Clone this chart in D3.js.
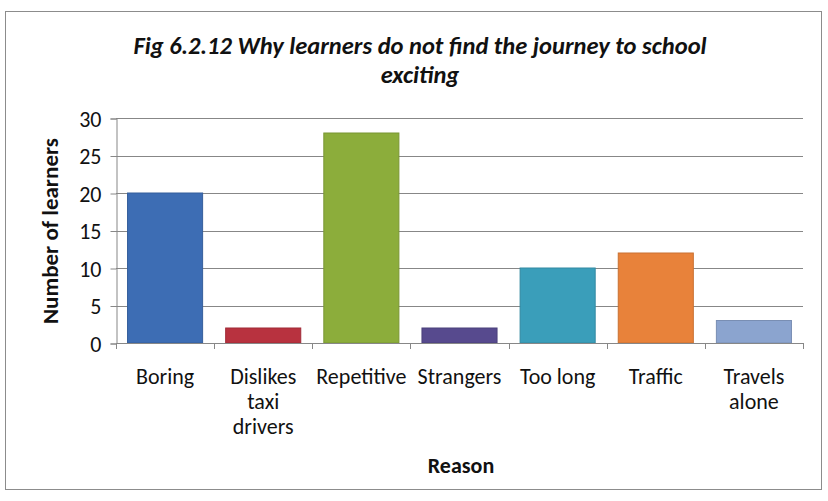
<!DOCTYPE html>
<html><head><meta charset="utf-8">
<script src="https://cdn.jsdelivr.net/npm/d3@7"></script>
<style>
html,body{margin:0;padding:0;background:#fff;}
text{font-family:Carlito,"Liberation Sans Narrow","Open Sans",sans-serif;}
</style></head>
<body><svg id="c" width="828" height="501"></svg>
<script>
const categories = ["Boring","Dislikes taxi drivers","Repetitive","Strangers","Too long","Traffic","Travels alone"];
const categoryLines = [["Boring"],["Dislikes","taxi","drivers"],["Repetitive"],["Strangers"],["Too long"],["Traffic"],["Travels","alone"]];
const values = [20, 2, 28, 2, 10, 12, 3];
const colors = ["#3d6db4","#b8323f","#8cad3b","#574a8e","#3a9eba","#e8823a","#8ba4cf"];
const yTicks = [0,5,10,15,20,25,30];
const titleLines = ["Fig 6.2.12 Why learners do not find the journey to school","exciting"];
const yTitle = "Number of learners";
const xTitle = "Reason";

const svg = d3.select("#c");
svg.append("rect").attr("x",5.5).attr("y",11.5).attr("width",816).attr("height",478)
  .attr("fill","#fff").attr("stroke","#8c8c8c").attr("stroke-width",1);

const pL=116, pR=803, pT=118, pB=343;
const x = d3.scaleBand().domain(categories).range([pL,pR]).paddingInner(0.235).paddingOuter(0.1175);
const y = d3.scaleLinear().domain([0,30]).range([pB,pT]);

// gridlines
svg.append("g").selectAll("line").data(yTicks).join("line")
  .attr("x1",pL).attr("x2",pR).attr("y1",d=>Math.round(y(d))+0.5).attr("y2",d=>Math.round(y(d))+0.5)
  .attr("stroke","#878787").attr("stroke-width",1);

// y axis
const ya = svg.append("g").attr("transform",`translate(${pL+0.5},0.5)`)
  .call(d3.axisLeft(y).tickValues(yTicks).tickSize(6).tickPadding(9));
ya.select(".domain").attr("stroke","#878787");
ya.selectAll(".tick line").attr("stroke","#878787");
ya.selectAll(".tick text").attr("font-size",22).attr("fill","#111").attr("dy","0.35em");

// bars
svg.append("g").selectAll("rect").data(values).join("rect")
  .attr("x",(d,i)=>x(categories[i])).attr("width",x.bandwidth())
  .attr("y",d=>y(d)).attr("height",d=>pB-y(d))
  .attr("fill",(d,i)=>colors[i])
  .attr("stroke",(d,i)=>d3.color(colors[i]).darker(0.4)).attr("stroke-width",1);

// x axis line and ticks at band boundaries
const bounds = d3.range(categories.length+1).map(i=>pL+i*(pR-pL)/categories.length);
svg.append("line").attr("x1",pL).attr("x2",pR).attr("y1",pB+0.5).attr("y2",pB+0.5).attr("stroke","#878787");
svg.append("g").selectAll("line").data(bounds).join("line")
  .attr("x1",d=>Math.round(d)+0.5).attr("x2",d=>Math.round(d)+0.5).attr("y1",pB).attr("y2",pB+6)
  .attr("stroke","#878787");

// category labels
const lab = svg.append("g");
categories.forEach((c,i)=>{
  const cx = x(c)+x.bandwidth()/2;
  const t = lab.append("text").attr("x",cx).attr("y",384).attr("text-anchor","middle")
    .attr("font-size",22).attr("fill","#111");
  categoryLines[i].forEach((ln,j)=>t.append("tspan").attr("x",cx).attr("dy",j?25:0).text(ln));
});

// titles
titleLines.forEach((t,i)=>svg.append("text").attr("x",420).attr("y",54+i*29).attr("text-anchor","middle")
  .attr("font-size",24.5).attr("font-weight","bold").attr("font-style","italic").attr("fill","#111").text(t));
svg.append("text").attr("x",461).attr("y",473).attr("text-anchor","middle")
  .attr("font-size",22).attr("font-weight","bold").attr("fill","#111").text(xTitle);
svg.append("text").attr("transform","translate(58,231) rotate(-90)").attr("text-anchor","middle")
  .attr("font-size",23).attr("font-weight","bold").attr("fill","#111").text(yTitle);
</script></body></html>
